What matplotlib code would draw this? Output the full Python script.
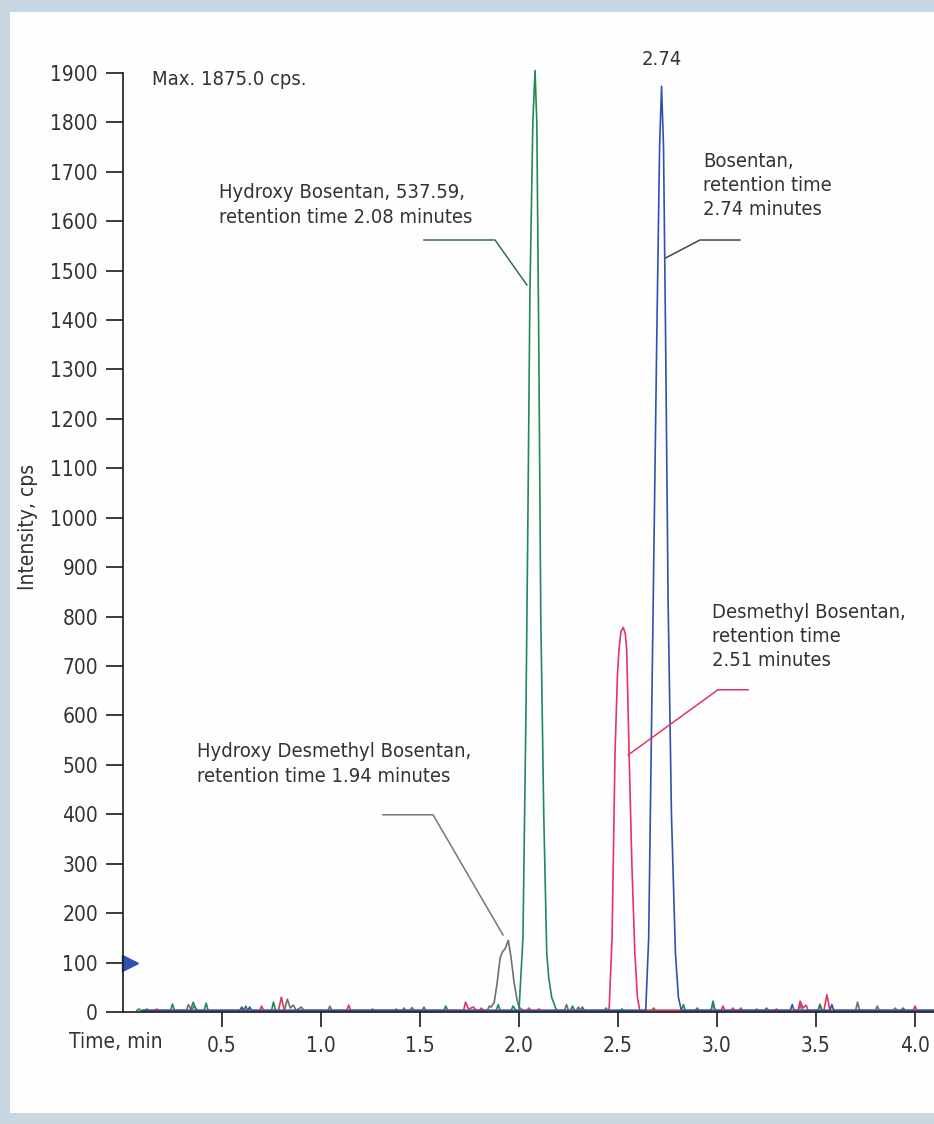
import matplotlib
matplotlib.use('Agg')
import matplotlib.pyplot as plt
from matplotlib.patches import Rectangle

FONT = ['DejaVu Sans']
plt.rcParams['font.family'] = FONT
plt.rcParams['font.stretch'] = 'condensed'

# ---------------- data (time [min], intensity [cps]) ----------------
GRAY_PTS = [
    (0.10, 3), (0.32, 3), (0.33, 15), (0.345, 4), (0.36, 12), (0.375, 3),
    (0.815, 3), (0.83, 26), (0.845, 8), (0.86, 14), (0.875, 3), (0.90, 10), (0.915, 3),
    (1.035, 3), (1.045, 12), (1.055, 3), (1.25, 3), (1.26, 6), (1.27, 3),
    (1.37, 3), (1.38, 6), (1.39, 3), (1.41, 3), (1.42, 8), (1.43, 3),
    (1.45, 3), (1.46, 9), (1.47, 3), (1.51, 3), (1.52, 10), (1.53, 3),
    (1.84, 3), (1.85, 12), (1.86, 10), (1.875, 20), (1.89, 60), (1.905, 110),
    (1.917, 122), (1.93, 128), (1.946, 145), (1.96, 110), (1.975, 60),
    (1.99, 25), (2.00, 10), (2.02, 3),
    (2.23, 3), (2.24, 15), (2.25, 3), (2.29, 3), (2.30, 10), (2.31, 3),
    (2.43, 3), (2.44, 8), (2.45, 3), (2.67, 3), (2.68, 8), (2.69, 3),
    (2.97, 3), (2.98, 18), (2.99, 3), (3.19, 3), (3.20, 6), (3.21, 3),
    (3.41, 3), (3.42, 15), (3.43, 3), (3.51, 3), (3.52, 16), (3.53, 3),
    (3.70, 3), (3.71, 20), (3.72, 3), (3.80, 3), (3.81, 12), (3.82, 3),
    (3.89, 3), (3.90, 8), (3.91, 3), (4.10, 3)]

GREEN_PTS = [
    (0.07, 3), (0.08, 6), (0.09, 3), (0.11, 3), (0.12, 6), (0.13, 3),
    (0.24, 3), (0.25, 16), (0.26, 3), (0.34, 3), (0.355, 20), (0.37, 3),
    (0.41, 3), (0.42, 18), (0.43, 3), (0.61, 3), (0.62, 12), (0.63, 3),
    (0.75, 3), (0.76, 20), (0.77, 3), (1.62, 3), (1.63, 12), (1.64, 3),
    (1.885, 3), (1.895, 15), (1.905, 3), (1.96, 3), (1.97, 12), (1.985, 3),
    (2.00, 3), (2.02, 150), (2.035, 600), (2.045, 1000), (2.055, 1450),
    (2.07, 1800), (2.081, 1905), (2.09, 1800), (2.10, 1350), (2.11, 800),
    (2.125, 400), (2.14, 120), (2.15, 70), (2.165, 30), (2.19, 3),
    (2.26, 3), (2.27, 12), (2.28, 3), (2.31, 3), (2.32, 10), (2.33, 3),
    (2.51, 3), (2.52, 6), (2.53, 3), (2.82, 3), (2.83, 15), (2.84, 3),
    (2.89, 3), (2.90, 8), (2.91, 3), (2.97, 3), (2.98, 22), (2.99, 3),
    (3.24, 3), (3.25, 8), (3.26, 3), (3.51, 3), (3.52, 14), (3.53, 3),
    (3.93, 3), (3.94, 8), (3.95, 3), (4.10, 3)]

RED_PTS = [
    (0.10, 3), (0.16, 3), (0.17, 6), (0.18, 3), (0.59, 3), (0.60, 8), (0.61, 3),
    (0.69, 3), (0.70, 12), (0.71, 3), (0.785, 3), (0.80, 30), (0.815, 3),
    (1.13, 3), (1.14, 14), (1.15, 3), (1.72, 3), (1.73, 20), (1.745, 6),
    (1.77, 10), (1.785, 3), (1.80, 3), (1.81, 8), (1.82, 3),
    (2.04, 3), (2.05, 8), (2.06, 3), (2.09, 3), (2.10, 6), (2.11, 3),
    (2.455, 3), (2.47, 150), (2.485, 524), (2.497, 680), (2.505, 733),
    (2.515, 770), (2.527, 778), (2.537, 765), (2.544, 733), (2.556, 524),
    (2.57, 300), (2.585, 120), (2.598, 30), (2.61, 3),
    (3.02, 3), (3.03, 12), (3.04, 3), (3.07, 3), (3.08, 8), (3.09, 3),
    (3.11, 3), (3.12, 8), (3.13, 3), (3.29, 3), (3.30, 6), (3.31, 3),
    (3.41, 3), (3.42, 22), (3.435, 8), (3.45, 14), (3.46, 3),
    (3.54, 3), (3.555, 35), (3.57, 3), (3.99, 3), (4.00, 12), (4.01, 3), (4.10, 3)]

BLUE_PTS = [
    (0.10, 3), (0.59, 3), (0.60, 10), (0.61, 3), (0.63, 3), (0.64, 10), (0.65, 3),
    (2.64, 3), (2.655, 150), (2.665, 450), (2.678, 834), (2.695, 1340),
    (2.71, 1750), (2.72, 1873), (2.73, 1750), (2.741, 1340), (2.753, 834),
    (2.77, 400), (2.79, 120), (2.805, 30), (2.82, 3),
    (3.37, 3), (3.38, 15), (3.39, 3), (3.57, 3), (3.58, 15), (3.59, 3), (4.10, 3)]

X_TICKS = [0.5, 1.0, 1.5, 2.0, 2.5, 3.0, 3.5, 4.0]
X_TICK_LABELS = ['0.5', '1.0', '1.5', '2.0', '2.5', '3.0', '3.5', '4.0']
Y_TICKS = list(range(0, 2000, 100))
Y_TICK_LABELS = [str(v) for v in Y_TICKS]

C_GRAY = '#6f6f6f'
C_GREEN = '#1f8a55'
C_RED = '#e2365f'
C_BLUE = '#2d52b2'
C_TEXT = '#333333'

W, H = 934, 1124
fig = plt.figure(figsize=(W / 100, H / 100), dpi=100)
fig.patch.set_facecolor('#c9d7e3')
fig.patches.append(Rectangle((10 / W, 1 - 1113 / H), 1, (1113 - 12) / H,
                             transform=fig.transFigure, facecolor='#fefefe',
                             edgecolor='none', zorder=-10))

ax = fig.add_axes([123 / W, 1 - 1012 / H, 1 - 123 / W, (1012 - 43.3) / H])
ax.set_zorder(5)
ax.set_facecolor('none')
ax.set_xlim(0, 4.096)
ax.set_ylim(0, 1960)

for pts, c in [(GRAY_PTS, C_GRAY), (GREEN_PTS, C_GREEN), (RED_PTS, C_RED), (BLUE_PTS, C_BLUE)]:
    t, v = zip(*pts)
    ax.plot(t, v, color=c, lw=1.2, solid_joinstyle='round', clip_on=False)

for s in ['top', 'right']:
    ax.spines[s].set_visible(False)
ax.spines['left'].set_bounds(0, 1900)
for s in ['left', 'bottom']:
    ax.spines[s].set_linewidth(1.2)
    ax.spines[s].set_color('#1a1a1a')

ax.set_xticks(X_TICKS)
ax.set_xticklabels(X_TICK_LABELS)
ax.set_yticks(Y_TICKS)
ax.set_yticklabels(Y_TICK_LABELS)
ax.tick_params(axis='x', direction='out', length=11, width=1.2, pad=6,
               labelsize=15, colors='#1a1a1a', labelcolor=C_TEXT)
ax.tick_params(axis='y', direction='out', length=12, width=1.2, pad=6,
               labelsize=15, colors='#1a1a1a', labelcolor=C_TEXT)

# blue marker at 100 cps
ax.plot([0.035], [100], marker='>', color=C_BLUE, ms=11, clip_on=False)

fs = 14.5
ax.text(0.146, 1886, 'Max. 1875.0 cps.', ha='left', va='center', fontsize=fs, color=C_TEXT)
ax.text(2.72, 1927, '2.74', ha='center', va='center', fontsize=fs, color=C_TEXT)

ax.text(0.485, 1633, 'Hydroxy Bosentan, 537.59,\nretention time 2.08 minutes',
        ha='left', va='center', fontsize=fs, color=C_TEXT, linespacing=1.45)
ax.text(2.929, 1673, 'Bosentan,\nretention time\n2.74 minutes',
        ha='left', va='center', fontsize=fs, color=C_TEXT, linespacing=1.33)
ax.text(2.975, 759, 'Desmethyl Bosentan,\nretention time\n2.51 minutes',
        ha='left', va='center', fontsize=fs, color=C_TEXT, linespacing=1.33)
ax.text(0.374, 502, 'Hydroxy Desmethyl Bosentan,\nretention time 1.94 minutes',
        ha='left', va='center', fontsize=fs, color=C_TEXT, linespacing=1.4)

# leader lines
ax.plot([1.520, 1.879, 2.040], [1562, 1562, 1471], color='#3b6b55', lw=1.1)
ax.plot([3.116, 2.914, 2.742], [1562, 1562, 1526], color='#444444', lw=1.1)
ax.plot([3.157, 3.005, 2.551], [652, 652, 520], color=C_RED, lw=1.1)
ax.plot([1.313, 1.566, 1.919], [399, 399, 156], color='#777777', lw=1.1)

fig.text(28 / W, 1 - 527 / H, 'Intensity, cps', rotation=90, ha='center', va='center',
         fontsize=15, color=C_TEXT)
fig.text(116 / W, 1 - 1042 / H, 'Time, min', ha='center', va='center',
         fontsize=15, color=C_TEXT)

fig.savefig('out.png', dpi=100, facecolor=fig.get_facecolor())
